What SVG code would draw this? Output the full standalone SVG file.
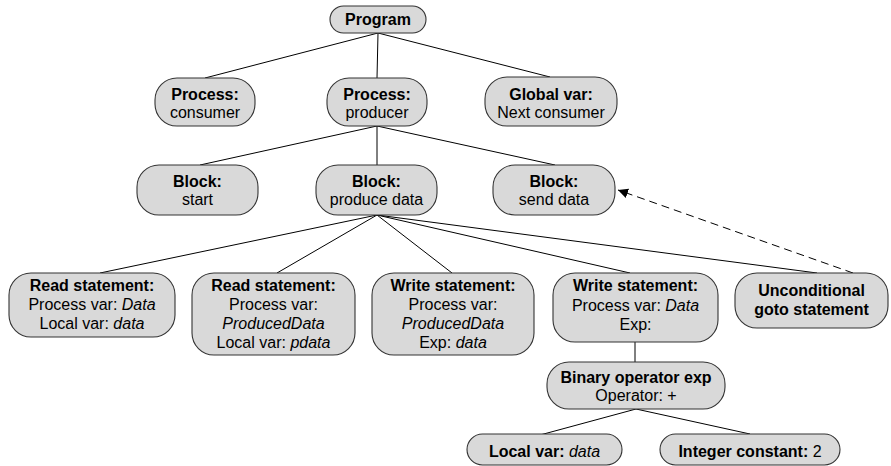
<svg xmlns="http://www.w3.org/2000/svg" width="891" height="466" viewBox="0 0 891 466">
<defs>
<marker id="arr" viewBox="0 0 10 10" refX="10" refY="5" markerWidth="10" markerHeight="10" markerUnits="userSpaceOnUse" orient="auto">
<path d="M0,0 L10,5 L0,10 z" fill="#000"/>
</marker>
<style>
.n rect{fill:#d9d9d9;stroke:#333;stroke-width:1.1}
text{font-family:"Liberation Sans",Arial,sans-serif;font-size:16px;fill:#000;text-anchor:middle}
.b{font-weight:bold}
.i{font-style:italic}
.c line{stroke:#000;stroke-width:1}
.d{stroke-dasharray:8,5}
</style>
</defs>
<rect width="891" height="466" fill="#fff"/>
<g class="c" id="connectors">
<line x1="378" y1="33" x2="205" y2="78"/>
<line x1="378" y1="33" x2="377" y2="78"/>
<line x1="378" y1="33" x2="550" y2="77"/>
<line x1="377" y1="126" x2="200" y2="165"/>
<line x1="377" y1="126" x2="377" y2="165"/>
<line x1="377" y1="126" x2="555" y2="165"/>
<line x1="377" y1="215" x2="100" y2="273"/>
<line x1="377" y1="215" x2="277" y2="273"/>
<line x1="377" y1="215" x2="452" y2="273"/>
<line x1="377" y1="215" x2="630" y2="273"/>
<line x1="377" y1="215" x2="817" y2="273"/>
<line x1="635" y1="342" x2="635" y2="362"/>
<line x1="636" y1="409" x2="540" y2="435"/>
<line x1="636" y1="409" x2="750" y2="434"/>
<line class="d" x1="853" y1="273" x2="618" y2="190" marker-end="url(#arr)"/>
</g>
<g class="n" id="program"><rect x="330" y="6" width="96" height="27" rx="13.5"/><text x="378" y="25" class="b">Program</text></g>
<g class="n" id="consumer"><rect x="155" y="78" width="100" height="48" rx="22"/><text x="205" y="100" class="b">Process:</text><text x="205" y="118">consumer</text></g>
<g class="n" id="producer"><rect x="327" y="78" width="100" height="48" rx="22"/><text x="377" y="100" class="b">Process:</text><text x="377" y="118">producer</text></g>
<g class="n" id="globalvar"><rect x="485" y="77" width="132" height="49" rx="22"/><text x="551" y="100" class="b">Global var:</text><text x="551" y="118">Next consumer</text></g>
<g class="n" id="blockstart"><rect x="137" y="165" width="121" height="50" rx="22"/><text x="197.5" y="187" class="b">Block:</text><text x="197.5" y="205">start</text></g>
<g class="n" id="blockproduce"><rect x="316" y="165" width="121" height="50" rx="22"/><text x="376.5" y="187" class="b">Block:</text><text x="376.5" y="205">produce data</text></g>
<g class="n" id="blocksend"><rect x="493" y="165" width="122" height="50" rx="22"/><text x="554" y="187" class="b">Block:</text><text x="554" y="205">send data</text></g>
<g class="n" id="read1"><rect x="9" y="273" width="166" height="64" rx="22"/><text x="92" y="291" class="b">Read statement:</text><text x="92" y="310">Process var: <tspan class="i">Data</tspan></text><text x="92" y="329">Local var: <tspan class="i">data</tspan></text></g>
<g class="n" id="read2"><rect x="192" y="273" width="163" height="82" rx="22"/><text x="273.5" y="291" class="b">Read statement:</text><text x="273.5" y="310">Process var:</text><text x="273.5" y="329" class="i">ProducedData</text><text x="273.5" y="348">Local var: <tspan class="i">pdata</tspan></text></g>
<g class="n" id="write1"><rect x="372" y="273" width="162" height="82" rx="22"/><text x="453" y="291" class="b">Write statement:</text><text x="453" y="310">Process var:</text><text x="453" y="329" class="i">ProducedData</text><text x="453" y="348">Exp: <tspan class="i">data</tspan></text></g>
<g class="n" id="write2"><rect x="553" y="273" width="165" height="69" rx="22"/><text x="635.5" y="291" class="b">Write statement:</text><text x="635.5" y="311">Process var: <tspan class="i">Data</tspan></text><text x="635.5" y="330">Exp:</text></g>
<g class="n" id="goto"><rect x="735" y="273" width="153" height="55" rx="22"/><text x="811.5" y="296" class="b">Unconditional</text><text x="811.5" y="315" class="b">goto statement</text></g>
<g class="n" id="binop"><rect x="547" y="362" width="178" height="47" rx="22"/><text x="636" y="383" class="b">Binary operator exp</text><text x="636" y="401">Operator: +</text></g>
<g class="n" id="localvar"><rect x="467" y="434" width="155" height="31" rx="15.5"/><text x="544.5" y="457"><tspan class="b">Local var: </tspan><tspan class="i">data</tspan></text></g>
<g class="n" id="intconst"><rect x="660" y="434" width="180" height="31" rx="15.5"/><text x="750" y="457"><tspan class="b">Integer constant: </tspan>2</text></g>
</svg>
